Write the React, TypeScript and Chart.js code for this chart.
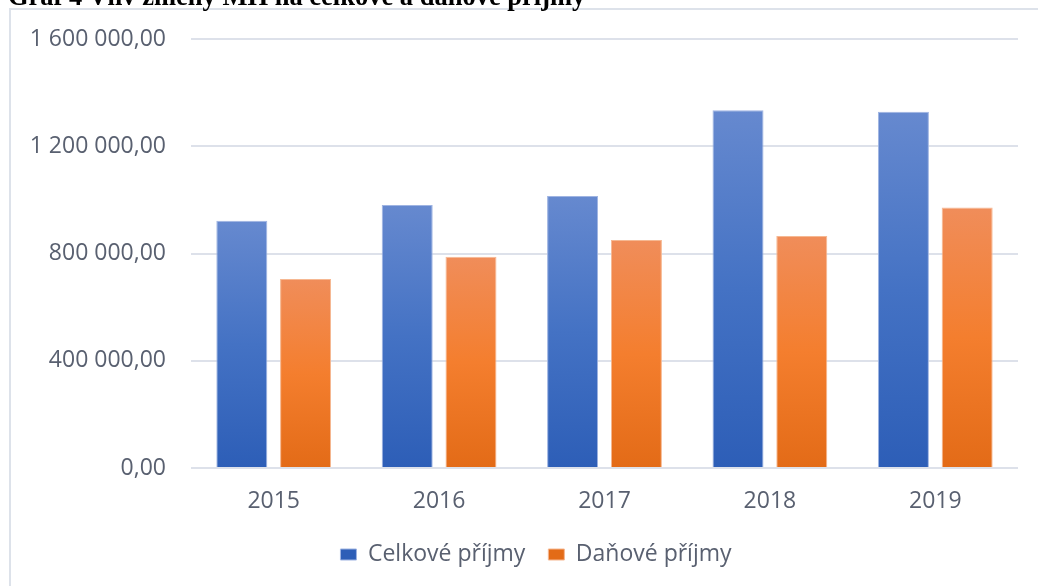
import React, { useEffect, useRef } from "react";
import { Chart, registerables } from "chart.js";

Chart.register(...registerables);

// Years on the category axis
const years = ["2015", "2016", "2017", "2018", "2019"];
// Total municipal revenue
const celkovePrijmy = [922000, 981000, 1014000, 1334000, 1329000];
// Tax revenue
const danovePrijmy = [705000, 788000, 850000, 865000, 972000];
// Value axis range
const yMin = 0;
const yMax = 1600000;
const yStep = 400000;

const seriesNames = ["Celkové příjmy", "Daňové příjmy"];
const titleText = "Graf 4 Vliv změny MH na celkové a daňové příjmy";

const textColor = "#596070";
const gridColor = "#dde1ea";
const fontFamily = "'Open Sans', 'Noto Sans', sans-serif";
const fontSize = 23;

// Czech number format: space thousands separator, comma decimals
function czNumber(v: number): string {
  const [intPart, decPart] = v.toFixed(2).split(".");
  return intPart.replace(/\B(?=(\d{3})+(?!\d))/g, " ") + "," + decPart;
}

// Each bar gets its own vertical gradient, light on top and darker at the base
function barGradient(stops: string[]) {
  return (ctx: any) => {
    const chart = ctx.chart;
    const yScale = chart.scales && chart.scales.y;
    if (ctx.type !== "data" || !chart.chartArea || !yScale) return stops[1];
    const top = yScale.getPixelForValue(ctx.raw);
    const bottom = yScale.getPixelForValue(0);
    if (!isFinite(top) || !isFinite(bottom) || top === bottom) return stops[1];
    const g = chart.ctx.createLinearGradient(0, top, 0, bottom);
    g.addColorStop(0, stops[0]);
    g.addColorStop(0.5, stops[1]);
    g.addColorStop(1, stops[2]);
    return g;
  };
}

function barBorder(edge: string, flat: string) {
  return (ctx: any) => (ctx.type === "data" ? edge : flat);
}

export default function App() {
  const canvasRef = useRef<HTMLCanvasElement | null>(null);

  useEffect(() => {
    if (!canvasRef.current) return;
    const chart = new Chart(canvasRef.current, {
      type: "bar",
      data: {
        labels: years,
        datasets: [
          {
            label: seriesNames[0],
            data: celkovePrijmy,
            backgroundColor: barGradient(["#6689cf", "#4472c4", "#2d5eb7"]),
            borderColor: barBorder("#9fb4e2", "#4472c4"),
            borderWidth: 1,
          },
          {
            label: seriesNames[1],
            data: danovePrijmy,
            backgroundColor: barGradient(["#f08d5a", "#f47e2e", "#e36b17"]),
            borderColor: barBorder("#f6b892", "#ed7d31"),
            borderWidth: 1,
          },
        ],
      },
      options: {
        responsive: false,
        animation: false,
        categoryPercentage: 0.771,
        barPercentage: 0.8,
        layout: { padding: { left: 0, right: 0, top: 39, bottom: 10 } },
        plugins: {
          tooltip: { enabled: false },
          legend: {
            position: "bottom",
            labels: {
              color: textColor,
              font: { family: fontFamily, size: fontSize },
              boxWidth: 16,
              boxHeight: 11,
              padding: 23,
            },
          },
        },
        scales: {
          x: {
            grid: { display: false },
            border: { display: false },
            ticks: {
              color: textColor,
              font: { family: fontFamily, size: fontSize },
              padding: 12,
            },
            afterFit: (scale: any) => {
              scale.height = 52;
            },
          },
          y: {
            min: yMin,
            max: yMax,
            grid: { color: gridColor, lineWidth: 2, drawTicks: false },
            border: { display: false },
            ticks: {
              stepSize: yStep,
              color: textColor,
              font: { family: fontFamily, size: fontSize },
              padding: 25,
              callback: (v: any) => czNumber(Number(v)),
            },
            afterFit: (scale: any) => {
              scale.width = 191;
            },
          },
          // blank right-hand margin of the plot frame
          gutter: {
            type: "linear",
            position: "right",
            grid: { display: false, drawTicks: false },
            border: { display: false },
            ticks: { display: false },
            afterFit: (scale: any) => {
              scale.width = 54;
            },
          },
        },
      },
    });
    return () => chart.destroy();
  }, []);

  return (
    <div
      style={{
        position: "absolute",
        left: 0,
        top: 0,
        width: 1038,
        height: 586,
        overflow: "hidden",
        background: "#ffffff",
      }}
    >
      <div
        style={{
          position: "absolute",
          left: 9,
          top: 8,
          width: 1200,
          height: 700,
          borderLeft: "2px solid #dde2ea",
          borderTop: "2px solid #dde2ea",
        }}
      />
      <canvas
        ref={canvasRef}
        width={1072}
        height={586}
        style={{ position: "absolute", left: 0, top: 0, width: 1072, height: 586 }}
      />
      <div
        style={{
          position: "absolute",
          left: 8,
          top: -17,
          whiteSpace: "nowrap",
          fontFamily: "'Liberation Serif', 'Times New Roman', serif",
          fontWeight: "bold",
          fontSize: 26.5,
          lineHeight: "26.5px",
          color: "#000000",
        }}
      >
        {titleText}
      </div>
    </div>
  );
}
